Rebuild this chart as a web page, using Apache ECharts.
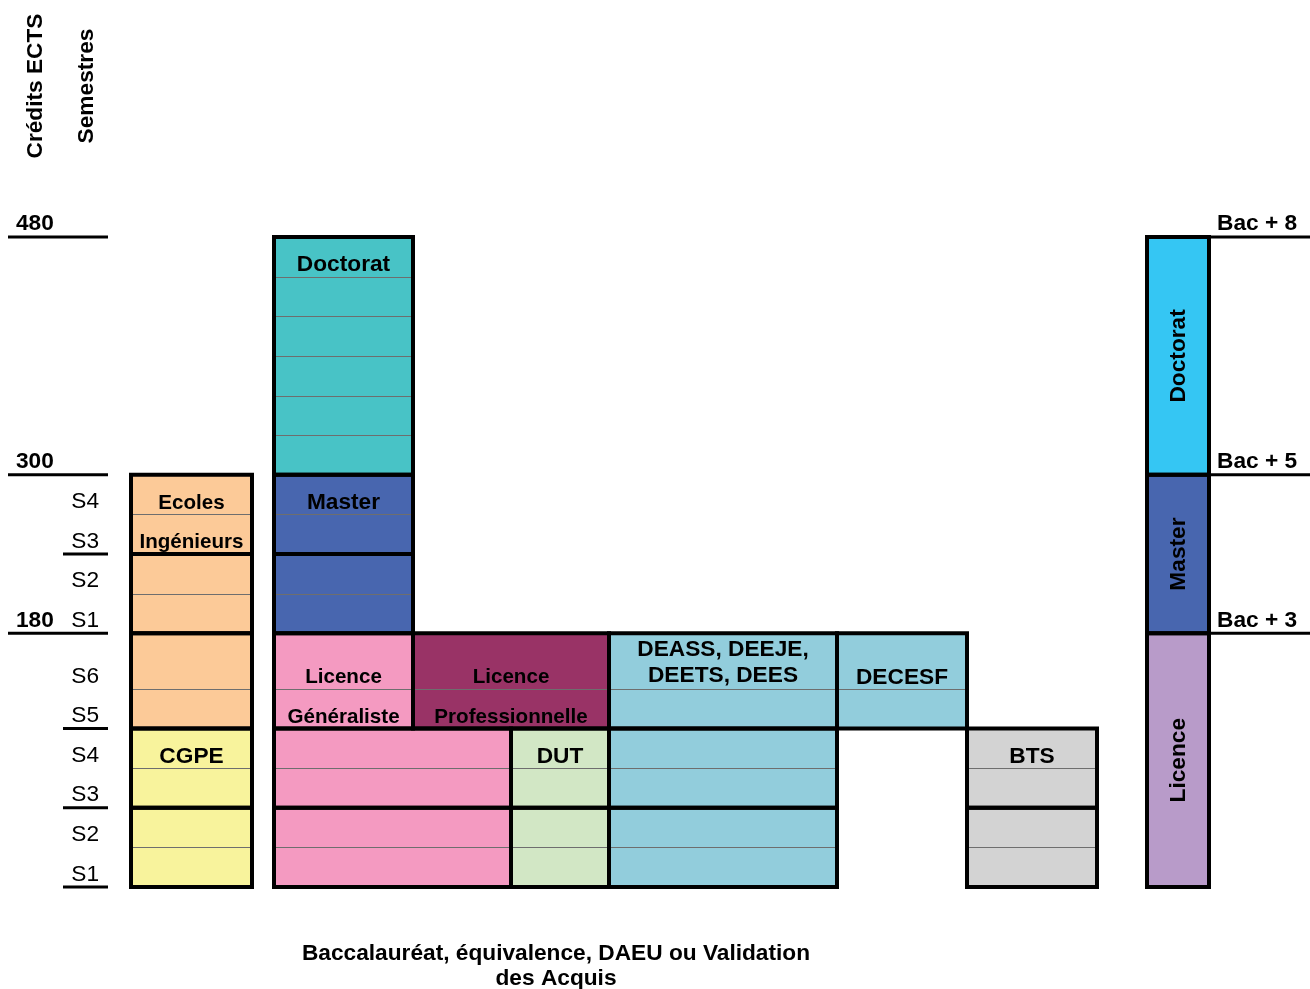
<!DOCTYPE html>
<html><head><meta charset="utf-8">
<script src="https://cdn.jsdelivr.net/npm/echarts@6/dist/echarts.min.js"></script>
<style>html,body{margin:0;padding:0;background:#fff}#c{width:1310px;height:989px}</style>
</head><body><div id="c"></div>
<script>
// ---------------- DATA ----------------
// Each block: pathway, first semester boundary, last semester boundary (semesters after the Bac), label lines (top row first)
const blockPathway = ['cgpe','cgpe','ecoles','ecoles','ecoles','licence','licence','dut','dut','deass','deass','deass','decesf','bts','bts','licGen','licPro','master','master','doctorat'];
const blockStart   = [0, 2, 4, 6, 8, 0, 2, 0, 2, 0, 2, 4, 4, 0, 2, 4, 4, 6, 8, 10];
const blockEnd     = [2, 4, 6, 8, 10, 2, 4, 2, 4, 2, 4, 6, 6, 2, 4, 6, 6, 8, 10, 16];
const blockLabels  = [[], ['CGPE'], [], [], ['Ecoles','Ingénieurs'], [], [], [], ['DUT'], [], [], ['DEASS, DEEJE,\nDEETS, DEES'], ['DECESF'], [], ['BTS'], ['Licence','Généraliste'], ['Licence','Professionnelle'], [], ['Master'], ['Doctorat']];

// Right-hand summary column
const levelNames = ['Licence', 'Master', 'Doctorat'];
const levelStart = [0, 6, 10];
const levelEnd   = [6, 10, 16];

// Scale annotations
const semesterLabels = ['S1','S2','S3','S4','S5','S6','S1','S2','S3','S4'];
const semesterLevels = [0, 1, 2, 3, 4, 5, 6, 7, 8, 9];   // row bottom of each label
const ectsLabels = ['480', '300', '180'];
const ectsLevels = [16, 10, 6];
const bacLabels  = ['Bac + 8', 'Bac + 5', 'Bac + 3'];
const bacLevels  = [16, 10, 6];
const shortRuleLevels = [0, 2, 4, 8];

// ---------------- LAYOUT / STYLE ----------------
const COLS = {
  cgpe:[131,252], ecoles:[131,252], licence:[274,511], dut:[511,609], deass:[609,837],
  decesf:[837,967], bts:[967,1097], licGen:[274,413], licPro:[413,609],
  master:[274,413], doctorat:[274,413], right:[1147,1209]
};
const COLORS = {
  cgpe:'#F8F39C', ecoles:'#FCCA98', licence:'#F49AC1', licGen:'#F49AC1', licPro:'#993366',
  dut:'#D2E7C5', deass:'#92CDDC', decesf:'#92CDDC', bts:'#D3D3D3', master:'#4866AF', doctorat:'#48C3C6'
};
const RIGHT_COLORS = ['#B89BC9', '#4866AF', '#35C6F3'];
const FONT = '"Liberation Sans", Arial, Helvetica, sans-serif';
const BIG = 22.7, SMALL = 20.6;
// the S6 row is drawn taller than the other semester rows
function semToAxis(s){ return s <= 5 ? s : (s <= 6 ? 5 + (s - 5) * 1.4 : s + 0.4); }

// ---------------- BUILD ----------------
const blockData = blockPathway.map((p, i) => [COLS[p][0], COLS[p][1], semToAxis(blockStart[i]), semToAxis(blockEnd[i]), i]);
const rightData = levelNames.map((n, i) => [COLS.right[0], COLS.right[1], semToAxis(levelStart[i]), semToAxis(levelEnd[i]), i]);

function renderBlock(params, api){
  const i = api.value(4);
  const x0 = api.value(0), x1 = api.value(1);
  const p0 = api.coord([x0, api.value(2)]);
  const p1 = api.coord([x1, api.value(3)]);
  const left = p0[0], right = p1[0], bottom = p0[1], top = p1[1];
  const children = [];
  children.push({type:'rect', z2:0, shape:{x:left, y:top, width:right-left, height:bottom-top}, style:{fill:COLORS[blockPathway[i]]}});
  for (let s = blockStart[i] + 1; s < blockEnd[i]; s++) {
    const y = Math.round(api.coord([x0, semToAxis(s)])[1]) + 0.5;
    children.push({type:'line', z2:1, shape:{x1:left, y1:y, x2:right, y2:y}, style:{stroke:'#6e6e6e', lineWidth:1}});
  }
  children.push({type:'rect', z2:2, shape:{x:left, y:top, width:right-left, height:bottom-top}, style:{fill:'none', stroke:'#000', lineWidth:4}});
  const labels = blockLabels[i];
  const cx = (left + right) / 2;
  labels.forEach((t, k) => {
    const rowBottom = api.coord([x0, semToAxis(blockEnd[i] - 1 - k)])[1];
    const multi = t.indexOf('\n') >= 0;
    const small = blockPathway[i] === 'ecoles' || blockPathway[i] === 'licGen' || blockPathway[i] === 'licPro';
    children.push({type:'text', z2:3, x:cx, y: multi ? rowBottom : rowBottom - 11.5,
      style:{text:t, fill:'#000', font:'bold ' + (small ? SMALL : BIG) + 'px ' + FONT,
        align:'center', verticalAlign: multi ? 'bottom' : 'middle', lineHeight: multi ? 26 : 22}});
  });
  return {type:'group', children};
}

function renderRight(params, api){
  const i = api.value(4);
  const p0 = api.coord([api.value(0), api.value(2)]);
  const p1 = api.coord([api.value(1), api.value(3)]);
  const left = p0[0], right = p1[0], bottom = p0[1], top = p1[1];
  return {type:'group', children:[
    {type:'rect', z2:0, shape:{x:left, y:top, width:right-left, height:bottom-top}, style:{fill:RIGHT_COLORS[i]}},
    {type:'rect', z2:2, shape:{x:left, y:top, width:right-left, height:bottom-top}, style:{fill:'none', stroke:'#000', lineWidth:4}},
    {type:'text', z2:3, x:(left+right)/2 + 1, y:(top+bottom)/2, rotation:Math.PI/2,
      style:{text:levelNames[i], fill:'#000', font:'bold ' + BIG + 'px ' + FONT, align:'center', verticalAlign:'middle'}}
  ]};
}

// annotations: kind 0 = semester label, 1 = ECTS label + long rule, 2 = Bac label + right rule, 3 = short rule
const annoData = [];
semesterLabels.forEach((t, i) => annoData.push([0, semToAxis(semesterLevels[i]), 0, i]));
ectsLabels.forEach((t, i) => annoData.push([0, semToAxis(ectsLevels[i]), 1, i]));
bacLabels.forEach((t, i) => annoData.push([1310, semToAxis(bacLevels[i]), 2, i]));
shortRuleLevels.forEach((l, i) => annoData.push([0, semToAxis(l), 3, i]));

function renderAnno(params, api){
  const kind = api.value(2), i = api.value(3);
  const y = api.coord([0, api.value(1)])[1];
  const x0 = api.coord([0, 0])[0];
  const ch = [];
  if (kind === 0) {
    ch.push({type:'text', x:x0 + 99, y:y - 12.5, style:{text:semesterLabels[i], fill:'#000', font:BIG + 'px ' + FONT, align:'right', verticalAlign:'middle'}});
  } else if (kind === 1) {
    ch.push({type:'text', x:x0 + 16, y:y - 13, style:{text:ectsLabels[i], fill:'#000', font:'bold ' + BIG + 'px ' + FONT, align:'left', verticalAlign:'middle'}});
    ch.push({type:'line', shape:{x1:x0 + 8, y1:y, x2:x0 + 108, y2:y}, style:{stroke:'#000', lineWidth:3}});
  } else if (kind === 2) {
    ch.push({type:'text', x:x0 + 1217, y:y - 13, style:{text:bacLabels[i], fill:'#000', font:'bold ' + BIG + 'px ' + FONT, align:'left', verticalAlign:'middle'}});
    ch.push({type:'line', shape:{x1:x0 + 1210, y1:y, x2:x0 + 1310, y2:y}, style:{stroke:'#000', lineWidth:3}});
  } else {
    ch.push({type:'line', shape:{x1:x0 + 63, y1:y, x2:x0 + 108, y2:y}, style:{stroke:'#000', lineWidth:3}});
  }
  return {type:'group', children:ch};
}

const chart = echarts.init(document.getElementById('c'), null, {renderer:'canvas'});
chart.setOption({
  animation:false,
  backgroundColor:'#fff',
  grid:{left:0, right:0, top:237, bottom:102},
  xAxis:{type:'value', min:0, max:1310, show:false},
  yAxis:{type:'value', min:0, max:16.4, show:false},
  graphic:[
    {type:'text', x:36, y:86, rotation:Math.PI/2, style:{text:'Crédits ECTS', fill:'#000', font:'bold ' + BIG + 'px ' + FONT, align:'center', verticalAlign:'middle'}},
    {type:'text', x:87, y:86, rotation:Math.PI/2, style:{text:'Semestres', fill:'#000', font:'bold ' + BIG + 'px ' + FONT, align:'center', verticalAlign:'middle'}},
    {type:'text', x:556, y:966, style:{text:'Baccalauréat, équivalence, DAEU ou Validation\ndes Acquis', fill:'#000', font:'bold ' + BIG + 'px ' + FONT, align:'center', verticalAlign:'middle', lineHeight:25}}
  ],
  series:[
    {type:'custom', renderItem:renderBlock, data:blockData, clip:false, silent:true},
    {type:'custom', renderItem:renderRight, data:rightData, clip:false, silent:true},
    {type:'custom', renderItem:renderAnno, data:annoData, clip:false, silent:true}
  ]
});
</script></body></html>
